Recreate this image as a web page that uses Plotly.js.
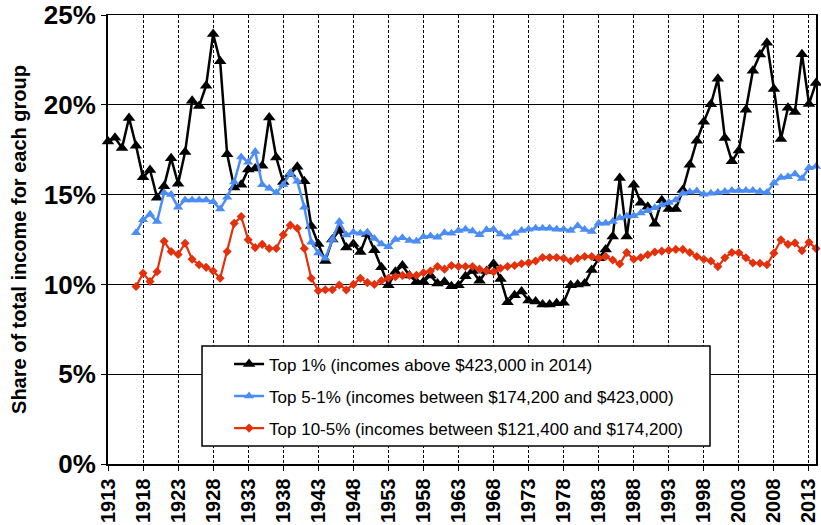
<!DOCTYPE html>
<html>
<head>
<meta charset="utf-8">
<script src="https://cdn.plot.ly/plotly-3.0.1.min.js"></script>
<style>html,body{margin:0;padding:0;background:#fff;}#chart{width:821px;height:525px;}</style>
</head>
<body>
<div id="chart"></div>
<script>
const yearsTop1 = [];
for (let y = 1913; y <= 2014; y++) yearsTop1.push(y);
const yearsOther = [];
for (let y = 1917; y <= 2014; y++) yearsOther.push(y);

// Top 1% share (%), 1913-2014
const top1 = [17.96,18.16,17.60,19.27,17.72,15.96,16.37,14.83,15.47,17.03,
15.61,17.37,20.22,19.93,21.06,23.94,22.42,17.24,15.40,15.55,
16.40,16.45,16.60,19.29,17.07,15.70,16.15,16.55,15.75,13.25,
12.25,11.30,12.50,13.00,12.05,12.25,11.80,12.80,11.90,10.95,
9.95,10.70,11.05,10.50,10.15,10.15,10.50,10.05,10.15,9.90,
9.95,10.45,10.75,10.20,10.75,11.15,10.30,9.00,9.40,9.60,
9.10,9.05,8.88,8.88,8.95,8.98,9.95,10.00,10.05,10.80,
11.45,11.95,12.67,15.92,12.67,15.55,14.55,14.33,13.38,14.68,
14.20,14.20,15.25,16.66,18.00,19.05,20.03,21.45,18.15,16.86,
17.45,19.72,21.90,22.80,23.45,20.88,18.10,19.83,19.60,22.82,
20.05,21.22];

// Top 5-1% share (%), 1917-2014
const top5to1 = [12.87,13.60,13.90,13.50,15.10,15.00,14.30,14.70,14.70,14.70,
14.70,14.60,14.20,14.85,15.70,17.10,16.80,17.40,15.55,15.35,
15.10,15.55,16.20,15.75,14.30,12.35,11.75,11.45,12.50,13.50,
12.75,12.90,12.85,12.90,12.55,12.25,12.10,12.50,12.60,12.45,
12.40,12.65,12.70,12.62,12.87,12.85,13.00,13.07,12.98,12.76,
13.04,13.07,12.80,12.63,12.85,13.00,13.07,13.13,13.13,13.13,
13.07,13.07,13.00,13.26,13.05,12.95,13.40,13.40,13.50,13.70,
13.80,13.82,13.97,14.10,14.27,14.42,14.56,14.70,15.08,15.14,
15.20,15.02,15.08,15.12,15.17,15.23,15.23,15.23,15.23,15.17,
15.12,15.64,15.95,16.00,16.15,15.90,16.50,16.56];

// Top 10-5% share (%), 1917-2014
const top10to5 = [9.88,10.62,10.16,10.71,12.40,11.83,11.67,12.29,11.40,11.09,
10.95,10.75,10.34,11.83,13.40,13.78,12.48,12.05,12.23,12.00,
12.00,12.76,13.30,13.13,12.00,10.34,9.65,9.70,9.70,9.97,
9.69,10.00,10.34,10.10,10.00,10.20,10.34,10.43,10.50,10.50,
10.50,10.65,10.75,11.00,10.85,11.05,11.00,11.00,11.00,10.85,
10.75,10.70,10.90,11.00,11.05,11.15,11.20,11.30,11.50,11.50,
11.50,11.45,11.30,11.45,11.55,11.55,11.46,11.55,11.36,11.14,
11.77,11.40,11.50,11.65,11.80,11.85,11.90,11.95,11.95,11.78,
11.55,11.40,11.30,10.99,11.48,11.78,11.76,11.48,11.19,11.18,
11.09,11.74,12.48,12.23,12.31,11.88,12.34,12.00];

const names = [
  "Top 1% (incomes above $423,000 in 2014)",
  "Top 5-1% (incomes between $174,200 and $423,000)",
  "Top 10-5% (incomes between $121,400 and $174,200)"
];
const colBlack = "#000000", colBlue = "#4b8cf5", colRed = "#e5300c";

const traces = [
  {x: yearsTop1, y: top1, name: names[0], type: "scatter", mode: "lines+markers",
   line: {color: colBlack, width: 2.5}, marker: {symbol: "triangle-up", size: 11, color: colBlack},
   cliponaxis: false, legendgroup: "a"},
  {x: yearsOther, y: top5to1, name: names[1], type: "scatter", mode: "lines+markers",
   line: {color: colBlue, width: 2.5}, marker: {symbol: "triangle-up", size: 9, color: colBlue},
   cliponaxis: false, legendgroup: "b"},
  {x: yearsOther, y: top10to5, name: names[2], type: "scatter", mode: "lines+markers",
   line: {color: colRed, width: 2.2}, marker: {symbol: "diamond", size: 7, color: colRed},
   cliponaxis: false, legendgroup: "c"}
];

const F = "Liberation Sans, Arial, Helvetica, sans-serif";
const layout = {
  width: 821, height: 525,
  margin: {l: 108, r: 5, t: 15, b: 61},
  paper_bgcolor: "#fff", plot_bgcolor: "#fff",
  showlegend: true,
  legend: {x: 0.171, y: 0.262, xanchor: "left", yanchor: "top",
           font: {family: F, size: 17, color: "#000"}, bgcolor: "rgba(0,0,0,0)",
           borderwidth: 0, tracegroupgap: 7},
  xaxis: {range: [1913, 2014], tickmode: "linear", tick0: 1913, dtick: 5,
          tickangle: -90, tickfont: {family: F, size: 20, color: "#000", weight: "bold"},
          showgrid: true, gridcolor: "#000", gridwidth: 1, griddash: "3px,2px",
          showline: true, linecolor: "#000", linewidth: 1.5, mirror: true,
          ticks: "outside", ticklen: 5, tickcolor: "#000", zeroline: false, fixedrange: true},
  yaxis: {range: [0, 25], tickmode: "linear", tick0: 0, dtick: 5, ticksuffix: "%",
          tickfont: {family: F, size: 26, color: "#000", weight: "bold"},
          title: {text: "Share of total income for each group", font: {family: F, size: 20, color: "#000", weight: "bold"}, standoff: 12},
          showgrid: true, gridcolor: "#000", gridwidth: 1,
          showline: true, linecolor: "#000", linewidth: 2, mirror: true,
          ticks: "outside", ticklen: 5, tickcolor: "#000", zeroline: false, fixedrange: true},
  shapes: [{type: "rect", xref: "paper", yref: "paper", x0: 0.1328, x1: 0.8503, y0: 0.0401, y1: 0.2628,
            fillcolor: "#fff", line: {color: "#000", width: 1.5}, layer: "above"}]
};

Plotly.newPlot("chart", traces, layout, {staticPlot: true, displayModeBar: false});
</script>
</body>
</html>
